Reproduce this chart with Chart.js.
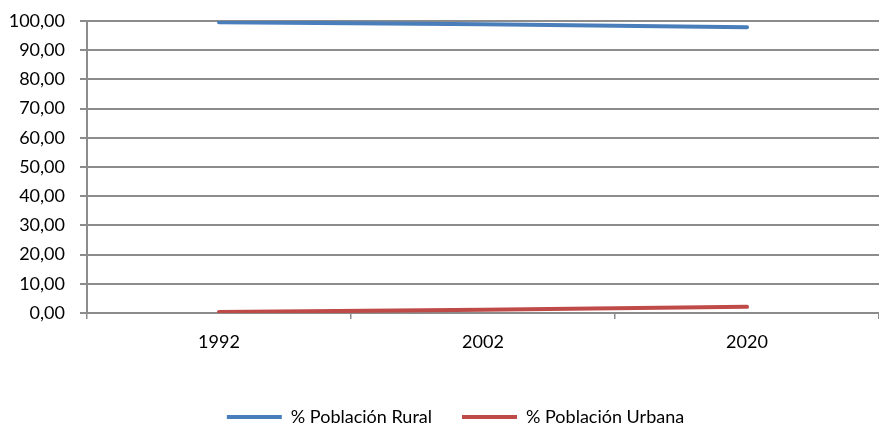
<!DOCTYPE html>
<html>
<head>
<meta charset="utf-8">
<script src="https://cdn.jsdelivr.net/npm/chart.js@4/dist/chart.umd.min.js"></script>
<style>
  html, body { margin: 0; padding: 0; background: #fff; }
  #wrap { width: 879px; height: 424px; }
</style>
</head>
<body>
<div id="wrap"><canvas id="chart"></canvas></div>
<script>
// data
var years = ['1992', '2002', '2020'];
var rural = [99.6, 98.9, 97.9];
var urbana = [0.3, 1.1, 2.1];
var yTicks = [0, 10, 20, 30, 40, 50, 60, 70, 80, 90, 100];

var gridGray = '#8c8c8c';

function fmt(v) {
    return Number(v).toFixed(2).replace('.', ',');
}

// legend in the picture sits a bit right of centre
var shiftLegend = {
    id: 'shiftLegend',
    afterLayout: function (chart) {
        chart.legend.left += 16;
        chart.legend.right += 16;
    }
};

window.onload = function () {
    var ctx = document.getElementById('chart').getContext('2d');

    new Chart(ctx, {
        type: 'line',
        data: {
            labels: years,
            datasets: [
                { label: '% Población Rural', data: rural, borderColor: '#4a7ebb', backgroundColor: '#4a7ebb',
                  borderWidth: 4, borderCapStyle: 'round', pointRadius: 0, tension: 0 },
                { label: '% Población Urbana', data: urbana, borderColor: '#be4b48', backgroundColor: '#be4b48',
                  borderWidth: 4, borderCapStyle: 'round', pointRadius: 0, tension: 0 }
            ]
        },
        plugins: [shiftLegend],
        options: {
            responsive: true,
            maintainAspectRatio: false,
            animation: false,
            layout: { padding: { top: 21, right: 0, left: 0, bottom: -12 } },
            plugins: {
                tooltip: { enabled: false },
                legend: {
                    position: 'bottom',
                    labels: {
                        usePointStyle: true,
                        pointStyle: 'line',
                        pointStyleWidth: 55,
                        boxHeight: 5,
                        padding: 30,
                        color: '#000',
                        font: { family: 'Lato', size: 18 }
                    }
                }
            },
            scales: {
                x: {
                    offset: true,
                    grid: { display: true, offset: true, drawOnChartArea: false, color: gridGray, lineWidth: 1.5, tickLength: 6 },
                    border: { color: gridGray, width: 2 },
                    ticks: { color: '#000', padding: 12, font: { family: 'Lato', size: 18 } },
                    afterFit: function (s) { s.height = 65; }
                },
                y: {
                    min: 0, max: 100,
                    afterBuildTicks: function (s) { s.ticks = yTicks.map(function (v) { return { value: v }; }); },
                    grid: { color: gridGray, lineWidth: 2, tickLength: 7 },
                    border: { color: gridGray, width: 2 },
                    ticks: { color: '#000', padding: 15, font: { family: 'Lato', size: 18 },
                             callback: function (v) { return fmt(v); } },
                    afterFit: function (s) { s.width = 87; s.paddingTop = 0; s.paddingBottom = 0; }
                }
            }
        }
    });
};
</script>
</body>
</html>
